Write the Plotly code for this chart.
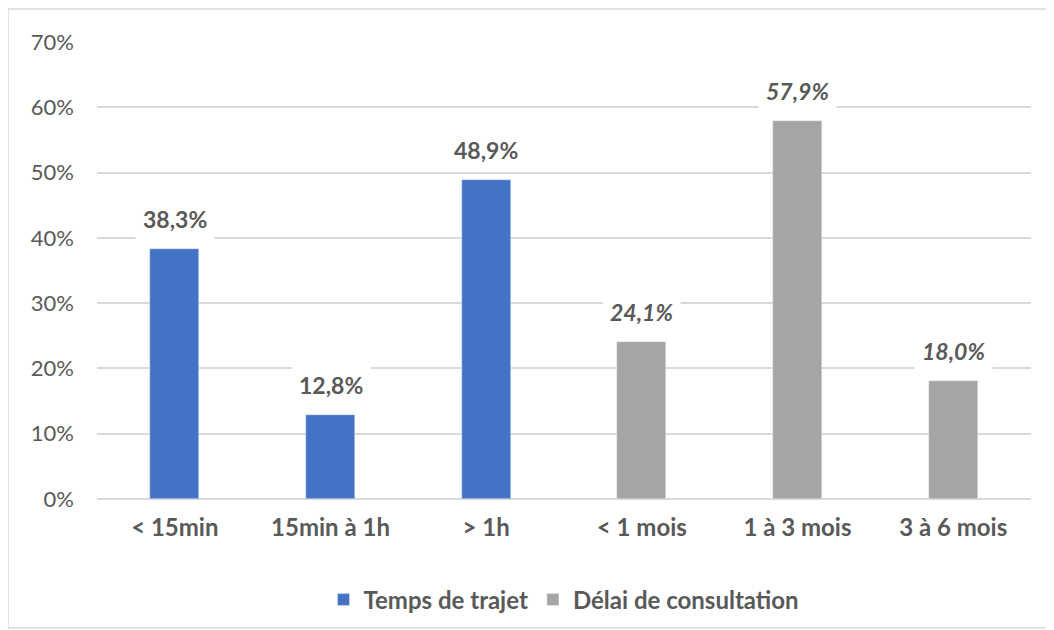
import plotly.graph_objects as go

categories = ["< 15min", "15min à 1h", "> 1h", "< 1 mois", "1 à 3 mois", "3 à 6 mois"]
trajet_cats = ["< 15min", "15min à 1h", "> 1h"]
trajet_vals = [38.3, 12.8, 48.9]
delai_cats = ["< 1 mois", "1 à 3 mois", "3 à 6 mois"]
delai_vals = [24.1, 57.9, 18.0]
y_ticks = [0, 10, 20, 30, 40, 50, 60, 70]

FONT = "Lato"
TXT = "#595959"

fig = go.Figure()
fig.add_trace(go.Bar(x=trajet_cats, y=trajet_vals, name="<b>Temps de trajet</b>",
                     marker_color="#4472C4", width=0.315))
fig.add_trace(go.Bar(x=delai_cats, y=delai_vals, name="<b>Délai de consultation</b>",
                     marker_color="#A5A5A5", width=0.315))

def fmt(v):
    return f"{v:.1f}%".replace(".", ",")

for c, v in zip(trajet_cats, trajet_vals):
    fig.add_annotation(x=c, y=v, text=f"<b>{fmt(v)}</b>", showarrow=False,
                       yanchor="middle", yshift=30, bgcolor="white",
                       font=dict(family=FONT, size=23, color=TXT), borderpad=7)
for c, v in zip(delai_cats, delai_vals):
    fig.add_annotation(x=c, y=v, text=f"<b><i>{fmt(v)}</i></b>", showarrow=False,
                       yanchor="middle", yshift=30, bgcolor="white",
                       font=dict(family=FONT, size=23, color=TXT), borderpad=7)

fig.add_shape(type="rect", xref="paper", yref="paper",
              x0=-0.0953, x1=1.018, y0=-0.282, y1=1.072,
              line=dict(color="#D9D9D9", width=1.5), layer="below")

fig.update_layout(
    width=1046, height=622,
    margin=dict(l=89, r=23, t=34, b=131, autoexpand=False),
    paper_bgcolor="white", plot_bgcolor="white",
    barmode="overlay",
    font=dict(family=FONT, size=22, color=TXT),
    xaxis=dict(categoryorder="array", categoryarray=categories,
               tickvals=categories, ticktext=[f"<b>{c}</b>" for c in categories],
               showgrid=False, showline=False, zeroline=False, automargin=False,
               tickfont=dict(family=FONT, size=24, color=TXT),
               ticks="", ticklabelstandoff=12),
    yaxis=dict(range=[0, 70], tickvals=y_ticks,
               ticktext=[f"{t}%" for t in y_ticks], automargin=False,
               showgrid=True, gridcolor="#D9D9D9", gridwidth=1.5,
               zeroline=True, zerolinecolor="#D9D9D9", zerolinewidth=1.5,
               showline=False, ticks="", ticklabelstandoff=22,
               tickfont=dict(family=FONT, size=22, color=TXT)),
    legend=dict(orientation="h", x=0.5, xanchor="center", y=-0.221, yanchor="middle",
                font=dict(family=FONT, size=24, color=TXT),
                itemwidth=30, tracegroupgap=0),
    bargap=0,
)

fig.write_html("out.html")
